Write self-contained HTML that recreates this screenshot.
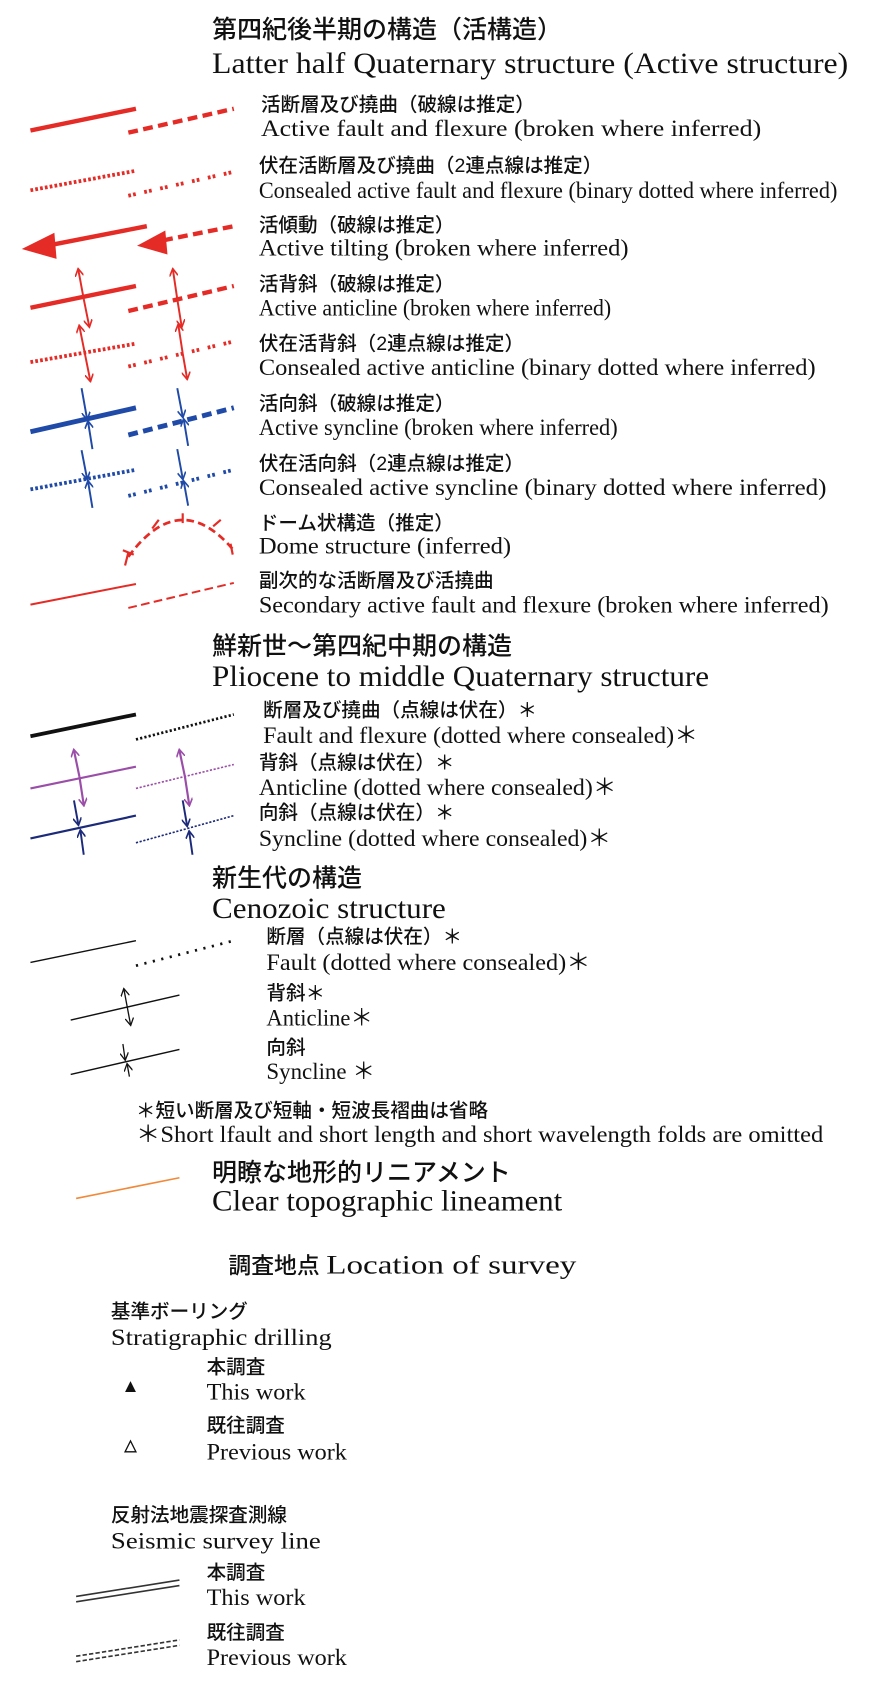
<!DOCTYPE html>
<html><head><meta charset="utf-8"><style>
html,body{margin:0;padding:0;background:#fff}
svg{display:block}
.jp{font-family:"Liberation Sans","Noto Sans CJK JP",sans-serif;font-size:18px;font-weight:500;fill:#111}
.en{font-family:"Liberation Serif",serif;font-size:21px;fill:#111}
.tj{font-family:"Liberation Sans","Noto Sans CJK JP",sans-serif;font-size:23px;font-weight:500;fill:#111}
.te{font-family:"Liberation Serif",serif;font-size:27px;fill:#111}
</style></head><body>
<svg width="870" height="1703" viewBox="0 0 800 1566" xmlns="http://www.w3.org/2000/svg">
<defs>
<marker id="ar" markerWidth="8" markerHeight="8" refX="6" refY="4" orient="auto" markerUnits="userSpaceOnUse"><path d="M0,0 L7,4 L0,8" fill="none" stroke="#e52b26" stroke-width="1.5"/></marker>
<marker id="ab" markerWidth="8" markerHeight="8" refX="6" refY="4" orient="auto" markerUnits="userSpaceOnUse"><path d="M0,0 L7,4 L0,8" fill="none" stroke="#1f4aa8" stroke-width="1.5"/></marker>
<marker id="ap" markerWidth="8" markerHeight="8" refX="6" refY="4" orient="auto" markerUnits="userSpaceOnUse"><path d="M0,0 L7,4 L0,8" fill="none" stroke="#9b4ea8" stroke-width="1.5"/></marker>
<marker id="an" markerWidth="8" markerHeight="8" refX="6" refY="4" orient="auto" markerUnits="userSpaceOnUse"><path d="M0,0 L7,4 L0,8" fill="none" stroke="#1c2a7a" stroke-width="1.5"/></marker>
<marker id="ak" markerWidth="8" markerHeight="8" refX="6" refY="4" orient="auto" markerUnits="userSpaceOnUse"><path d="M0,0 L7,4 L0,8" fill="none" stroke="#111" stroke-width="1.2"/></marker>
</defs>

<text class="tj" x="195" y="35">第四紀後半期の構造（活構造）</text>
<text class="te" x="195" y="67" textLength="585" lengthAdjust="spacingAndGlyphs">Latter half Quaternary structure (Active structure)</text>

<g stroke="#e52b26" fill="none">
<line x1="28" y1="120" x2="125" y2="100" stroke-width="4"/>
<line x1="118" y1="122" x2="215" y2="100" stroke-width="4" stroke-dasharray="9,5"/>
<line x1="28" y1="175" x2="125" y2="157" stroke-width="3.5" stroke-dasharray="2.5,2"/>
<line x1="118" y1="180" x2="215" y2="158" stroke-width="3.5" stroke-dasharray="2.5,2,2.5,8"/>
<line x1="48" y1="225" x2="135" y2="208" stroke-width="4"/>
<path d="M20,229 L50,214 L52,238 Z" fill="#e52b26" stroke="none"/>
<line x1="150" y1="221" x2="215" y2="208" stroke-width="4" stroke-dasharray="9,5"/>
<path d="M126,226 L152,212 L154,234 Z" fill="#e52b26" stroke="none"/>
<line x1="28" y1="283" x2="125" y2="263" stroke-width="4"/>
<line x1="118" y1="286" x2="215" y2="263" stroke-width="4" stroke-dasharray="9,5"/>
<line x1="77" y1="275" x2="72" y2="248" stroke-width="1.8" marker-end="url(#ar)"/>
<line x1="77" y1="275" x2="82" y2="300" stroke-width="1.8" marker-end="url(#ar)"/>
<line x1="163" y1="275" x2="159" y2="248" stroke-width="1.8" marker-end="url(#ar)"/>
<line x1="163" y1="275" x2="167" y2="300" stroke-width="1.8" marker-end="url(#ar)"/>
<line x1="28" y1="333" x2="125" y2="316" stroke-width="3.5" stroke-dasharray="2.5,2"/>
<line x1="118" y1="337" x2="215" y2="314" stroke-width="3.5" stroke-dasharray="2.5,2,2.5,8"/>
<line x1="78" y1="325" x2="73" y2="300" stroke-width="1.8" marker-end="url(#ar)"/>
<line x1="78" y1="325" x2="83" y2="350" stroke-width="1.8" marker-end="url(#ar)"/>
<line x1="168" y1="325" x2="164" y2="299" stroke-width="1.8" marker-end="url(#ar)"/>
<line x1="168" y1="325" x2="172" y2="348" stroke-width="1.8" marker-end="url(#ar)"/>
<path d="M118,512 Q165,448 214,505" stroke-width="2.5" stroke-dasharray="7,4"/>
<g stroke-width="2"><line x1="113" y1="506" x2="123" y2="510"/><line x1="118" y1="508" x2="115" y2="520"/><line x1="140" y1="486" x2="146" y2="478"/><line x1="168" y1="472" x2="168" y2="481"/><line x1="196" y1="484" x2="203" y2="478"/><line x1="212" y1="500" x2="214" y2="510"/></g>
<line x1="28" y1="556" x2="125" y2="537" stroke-width="1.8"/>
<line x1="118" y1="559" x2="215" y2="536" stroke-width="1.8" stroke-dasharray="8,4"/>
</g>
<g stroke="#1f4aa8" fill="none">
<line x1="28" y1="397" x2="125" y2="375" stroke-width="4.5"/>
<line x1="118" y1="400" x2="215" y2="375" stroke-width="4.5" stroke-dasharray="9,5"/>
<line x1="75" y1="357" x2="80" y2="385" stroke-width="1.8" marker-end="url(#ab)"/>
<line x1="85" y1="413" x2="81" y2="388" stroke-width="1.8" marker-end="url(#ab)"/>
<line x1="163" y1="357" x2="168" y2="383" stroke-width="1.8" marker-end="url(#ab)"/>
<line x1="173" y1="410" x2="169" y2="386" stroke-width="1.8" marker-end="url(#ab)"/>
<line x1="28" y1="450" x2="125" y2="432" stroke-width="3.5" stroke-dasharray="2.5,2"/>
<line x1="118" y1="456" x2="215" y2="432" stroke-width="3.5" stroke-dasharray="2.5,2,2.5,8"/>
<line x1="75" y1="414" x2="80" y2="440" stroke-width="1.8" marker-end="url(#ab)"/>
<line x1="85" y1="467" x2="81" y2="443" stroke-width="1.8" marker-end="url(#ab)"/>
<line x1="163" y1="413" x2="168" y2="440" stroke-width="1.8" marker-end="url(#ab)"/>
<line x1="173" y1="465" x2="169" y2="443" stroke-width="1.8" marker-end="url(#ab)"/>
</g>

<text class="jp" x="240" y="102">活断層及び撓曲（破線は推定）</text>
<text class="en" x="240" y="125" textLength="460" lengthAdjust="spacingAndGlyphs">Active fault and flexure (broken where inferred)</text>
<text class="jp" x="238" y="158">伏在活断層及び撓曲（2連点線は推定）</text>
<text class="en" x="238" y="182" textLength="532" lengthAdjust="spacingAndGlyphs">Consealed active fault and flexure  (binary dotted where inferred)</text>
<text class="jp" x="238" y="213">活傾動（破線は推定）</text>
<text class="en" x="238" y="235" textLength="340" lengthAdjust="spacingAndGlyphs">Active tilting  (broken where inferred)</text>
<text class="jp" x="238" y="267">活背斜（破線は推定）</text>
<text class="en" x="238" y="290" textLength="324" lengthAdjust="spacingAndGlyphs">Active anticline (broken where inferred)</text>
<text class="jp" x="238" y="322">伏在活背斜（2連点線は推定）</text>
<text class="en" x="238" y="345" textLength="512" lengthAdjust="spacingAndGlyphs">Consealed active anticline  (binary dotted where inferred)</text>
<text class="jp" x="238" y="377">活向斜（破線は推定）</text>
<text class="en" x="238" y="400" textLength="330" lengthAdjust="spacingAndGlyphs">Active syncline (broken where inferred)</text>
<text class="jp" x="238" y="432">伏在活向斜（2連点線は推定）</text>
<text class="en" x="238" y="455" textLength="522" lengthAdjust="spacingAndGlyphs">Consealed active syncline (binary dotted where inferred)</text>
<text class="jp" x="238" y="487">ドーム状構造（推定）</text>
<text class="en" x="238" y="509" textLength="232" lengthAdjust="spacingAndGlyphs">Dome structure (inferred)</text>
<text class="jp" x="238" y="540">副次的な活断層及び活撓曲</text>
<text class="en" x="238" y="563" textLength="524" lengthAdjust="spacingAndGlyphs">Secondary active fault and flexure  (broken where inferred)</text>

<text class="tj" x="195" y="602">鮮新世～第四紀中期の構造</text>
<text class="te" x="195" y="631" textLength="457" lengthAdjust="spacingAndGlyphs">Pliocene to middle Quaternary structure</text>

<g fill="none">
<line x1="28" y1="677" x2="125" y2="657" stroke="#111" stroke-width="3.5"/>
<line x1="125" y1="680" x2="215" y2="657" stroke="#111" stroke-width="2.5" stroke-dasharray="2,2"/>
<line x1="28" y1="725" x2="125" y2="705" stroke="#9b4ea8" stroke-width="2"/>
<line x1="125" y1="725" x2="215" y2="703" stroke="#9b4ea8" stroke-width="1.5" stroke-dasharray="2,1.5"/>
<line x1="73" y1="714" x2="68" y2="690" stroke="#9b4ea8" stroke-width="2" marker-end="url(#ap)"/>
<line x1="73" y1="714" x2="77" y2="740" stroke="#9b4ea8" stroke-width="2" marker-end="url(#ap)"/>
<line x1="170" y1="714" x2="165" y2="690" stroke="#9b4ea8" stroke-width="2" marker-end="url(#ap)"/>
<line x1="170" y1="714" x2="174" y2="740" stroke="#9b4ea8" stroke-width="2" marker-end="url(#ap)"/>
<line x1="28" y1="771" x2="125" y2="750" stroke="#1c2a7a" stroke-width="2"/>
<line x1="125" y1="775" x2="215" y2="750" stroke="#1c2a7a" stroke-width="1.5" stroke-dasharray="2,1.5"/>
<line x1="68" y1="736" x2="72" y2="758" stroke="#1c2a7a" stroke-width="1.8" marker-end="url(#an)"/>
<line x1="77" y1="786" x2="74" y2="764" stroke="#1c2a7a" stroke-width="1.8" marker-end="url(#an)"/>
<line x1="168" y1="736" x2="172" y2="759" stroke="#1c2a7a" stroke-width="1.8" marker-end="url(#an)"/>
<line x1="177" y1="786" x2="174" y2="765" stroke="#1c2a7a" stroke-width="1.8" marker-end="url(#an)"/>
</g>
<text class="jp" x="242" y="659">断層及び撓曲（点線は伏在）＊</text>
<text class="en" x="242" y="683" textLength="400" lengthAdjust="spacingAndGlyphs">Fault and flexure (dotted where consealed)＊</text>
<text class="jp" x="238" y="707">背斜（点線は伏在）＊</text>
<text class="en" x="238" y="731" textLength="329" lengthAdjust="spacingAndGlyphs">Anticline (dotted where consealed)＊</text>
<text class="jp" x="238" y="753">向斜（点線は伏在）＊</text>
<text class="en" x="238" y="778" textLength="324" lengthAdjust="spacingAndGlyphs">Syncline (dotted where consealed)＊</text>

<text class="tj" x="195" y="815">新生代の構造</text>
<text class="te" x="195" y="844" textLength="215" lengthAdjust="spacingAndGlyphs">Cenozoic structure</text>

<g fill="none" stroke="#111">
<line x1="28" y1="885" x2="125" y2="865" stroke-width="1.3"/>
<line x1="125" y1="888" x2="215" y2="865" stroke-width="2.5" stroke-dasharray="2,6"/>
<line x1="65" y1="938" x2="165" y2="915" stroke-width="1.3"/>
<line x1="117" y1="926" x2="114" y2="910" stroke-width="1.2" marker-end="url(#ak)"/>
<line x1="117" y1="926" x2="120" y2="942" stroke-width="1.2" marker-end="url(#ak)"/>
<line x1="65" y1="988" x2="165" y2="965" stroke-width="1.3"/>
<line x1="113" y1="960" x2="115" y2="974" stroke-width="1.2" marker-end="url(#ak)"/>
<line x1="119" y1="990" x2="117" y2="979" stroke-width="1.2" marker-end="url(#ak)"/>
</g>
<text class="jp" x="245" y="867">断層（点線は伏在）＊</text>
<text class="en" x="245" y="892" textLength="298" lengthAdjust="spacingAndGlyphs">Fault  (dotted where consealed)＊</text>
<text class="jp" x="245" y="919">背斜＊</text>
<text class="en" x="245" y="943" textLength="98" lengthAdjust="spacingAndGlyphs">Anticline＊</text>
<text class="jp" x="245" y="969">向斜</text>
<text class="en" x="245" y="992" textLength="100" lengthAdjust="spacingAndGlyphs">Syncline ＊</text>

<text class="jp" x="125" y="1027">＊短い断層及び短軸・短波長褶曲は省略</text>
<text class="en" x="125" y="1050" textLength="632" lengthAdjust="spacingAndGlyphs">＊Short lfault and short length and short wavelength folds are omitted</text>

<line x1="70" y1="1102" x2="165" y2="1083" stroke="#f08a3a" stroke-width="1.5"/>
<text class="tj" x="195" y="1086">明瞭な地形的リニアメント</text>
<text class="te" x="195" y="1113" textLength="322" lengthAdjust="spacingAndGlyphs">Clear topographic lineament</text>

<text class="jp" x="210" y="1171" style="font-size:21px">調査地点</text>
<text class="en" x="300" y="1171" style="font-size:24px" textLength="230" lengthAdjust="spacingAndGlyphs">Location of survey</text>

<text class="jp" x="102" y="1212">基準ボーリング</text>
<text class="en" x="102" y="1237" textLength="203" lengthAdjust="spacingAndGlyphs">Stratigraphic drilling</text>
<path d="M115,1280 L120,1270 L125,1280 Z" fill="#111"/>
<text class="jp" x="190" y="1263">本調査</text>
<text class="en" x="190" y="1287" textLength="91" lengthAdjust="spacingAndGlyphs">This work</text>
<path d="M115,1335 L120,1325 L125,1335 Z" fill="none" stroke="#111" stroke-width="1.2"/>
<text class="jp" x="190" y="1317">既往調査</text>
<text class="en" x="190" y="1342" textLength="129" lengthAdjust="spacingAndGlyphs">Previous work</text>

<text class="jp" x="102" y="1399">反射法地震探査測線</text>
<text class="en" x="102" y="1424" textLength="193" lengthAdjust="spacingAndGlyphs">Seismic  survey line</text>
<g stroke="#333" fill="none" stroke-width="1.5">
<line x1="70" y1="1468" x2="165" y2="1453"/>
<line x1="70" y1="1473" x2="165" y2="1458"/>
<line x1="70" y1="1523" x2="165" y2="1508" stroke-dasharray="4,2"/>
<line x1="70" y1="1528" x2="165" y2="1513" stroke-dasharray="4,2"/>
</g>
<text class="jp" x="190" y="1452">本調査</text>
<text class="en" x="190" y="1476" textLength="91" lengthAdjust="spacingAndGlyphs">This work</text>
<text class="jp" x="190" y="1507">既往調査</text>
<text class="en" x="190" y="1531" textLength="129" lengthAdjust="spacingAndGlyphs">Previous work</text>
</svg>
</body></html>
